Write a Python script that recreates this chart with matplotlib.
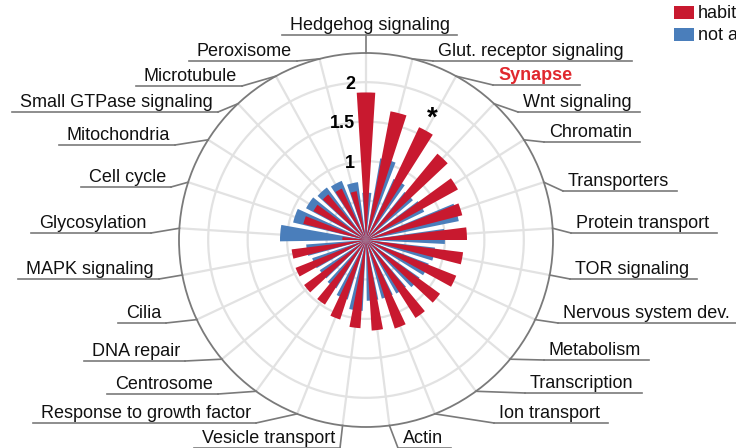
import numpy as np
import matplotlib
matplotlib.use("Agg")
import matplotlib.pyplot as plt
from matplotlib.lines import Line2D
from matplotlib.patches import Rectangle

plt.rcParams['font.family'] = ['Liberation Sans', 'DejaVu Sans']

# categories clockwise from the top
categories = ["Hedgehog signaling", "Glut. receptor signaling", "Synapse", "Wnt signaling",
              "Chromatin", "Transporters", "Protein transport", "TOR signaling",
              "Nervous system dev.", "Metabolism", "Transcription", "Ion transport",
              "Actin", "Vesicle transport", "Response to growth factor", "Centrosome",
              "DNA repair", "Cilia", "MAPK signaling", "Glycosylation", "Cell cycle",
              "Mitochondria", "Small GTPase signaling", "Microtubule", "Peroxisome"]
habit = [1.87, 1.66, 1.58, 1.42, 1.33, 1.26, 1.28, 1.24, 1.23, 1.16, 1.17, 1.18, 1.15,
         1.12, 1.06, 0.97, 0.97, 0.96, 0.95, 0.30, 0.82, 0.76, 0.75, 0.72, 0.63]
not_aff = [0.60, 1.05, 0.85, 0.78, 0.82, 1.20, 1.00, 0.88, 0.85, 0.83, 0.78, 0.77, 0.77,
           0.90, 0.79, 0.72, 0.70, 0.72, 0.76, 1.09, 0.95, 0.86, 0.83, 0.81, 0.74]
rticks = [0.5, 1, 1.5, 2]
rlabels = ["", "1", "1.5", "2"]
highlight = "Synapse"
series = ["habituated", "not affected"]

# label layout (pixels, image coords): near x of text, y of underline
label_x = [370, 438, 498, 523, 549, 568, 576, 575, 563, 549, 530, 499, 403,
           335, 251, 213, 180, 161, 154, 146, 166, 170, 213, 237, 292]
line_y = [35, 61, 85, 112, 142, 191, 233, 279, 323, 360, 393, 423, 448,
          448, 423, 394, 361, 323, 279, 233, 187, 145, 112, 86, 61]

red = "#c8192f"
blue = "#4a7ebb"
gray = "#7a7a7a"

W, H = 736, 448
cx, cy, R = 366, 240, 187
rmax = 2.37

fig = plt.figure(figsize=(W / 100, H / 100), dpi=100)
ax = fig.add_axes([(cx - R) / W, (H - cy - R) / H, 2 * R / W, 2 * R / H], projection='polar')
ax.set_theta_zero_location('N')
ax.set_theta_direction(-1)

n = len(categories)
theta = np.arange(n) * 2 * np.pi / n
ax.bar(theta + np.deg2rad(1), not_aff, width=np.deg2rad(11), color=blue, lw=0, zorder=2)
ax.bar(theta, habit, width=np.deg2rad(7.2), color=red, lw=0, zorder=3)
ax.set_ylim(0, rmax)
ax.set_xticks(theta)
ax.set_yticks(rticks)
ax.set_xticklabels([])
ax.set_yticklabels([])
ax.set_axisbelow(True)
ax.grid(True, color="#e2e2e2", lw=1.6)
ax.spines['polar'].set_color(gray)
ax.spines['polar'].set_linewidth(1.3)

for v, s in zip(rticks, rlabels):
    if s:
        ax.annotate(s, xy=(0, v), xytext=(-8, 0), textcoords='offset points',
                    ha='right', va='center_baseline', fontsize=13, fontweight='bold', zorder=5)

k = categories.index(highlight)
ax.text(theta[k], habit[k] + 0.17, "*", ha='center', va='center', fontsize=20,
        fontweight='bold', zorder=5)


def fpt(x, y):
    return x / W, 1 - y / H


def seg(x1, y1, x2, y2):
    a, b = fpt(x1, y1)
    c, d = fpt(x2, y2)
    fig.add_artist(Line2D([a, c], [b, d], transform=fig.transFigure, color=gray, lw=1.2))


texts = []
for i, name in enumerate(categories):
    if i == 0:
        ha = 'center'
    elif i <= 12:
        ha = 'left'
    else:
        ha = 'right'
    kw = dict(color="#e0282e", fontweight='bold') if name == highlight else dict(color="#111111")
    t = fig.text(*fpt(label_x[i], line_y[i] - 5), name, ha=ha, va='baseline', fontsize=13, **kw)
    texts.append(t)

fig.canvas.draw()
rend = fig.canvas.get_renderer()
for i, t in enumerate(texts):
    bb = t.get_window_extent(rend)
    px, py = ax.transData.transform((theta[i], rmax))
    py = H - py
    y = line_y[i]
    if i == 0:
        seg(bb.x0 - 8, y, bb.x1 + 7, y)
        seg(px, py, px, y)
    elif i <= 12:
        x0 = label_x[i] - 5
        seg(x0, y, bb.x1 + 8, y)
        seg(px, py, x0, y)
    else:
        x0 = label_x[i] + 5
        seg(bb.x0 - 8, y, x0, y)
        seg(px, py, x0, y)

# legend
for j, (name, col) in enumerate(zip(series, [red, blue])):
    x, y = fpt(674, 19 + j * 22)
    fig.add_artist(Rectangle((x, y), 20 / W, 13 / H, transform=fig.transFigure, color=col, lw=0))
    fig.text(*fpt(698, 13 + j * 22), name, ha='left', va='center', fontsize=13, color="#111111")

fig.savefig("out.png", dpi=100)
